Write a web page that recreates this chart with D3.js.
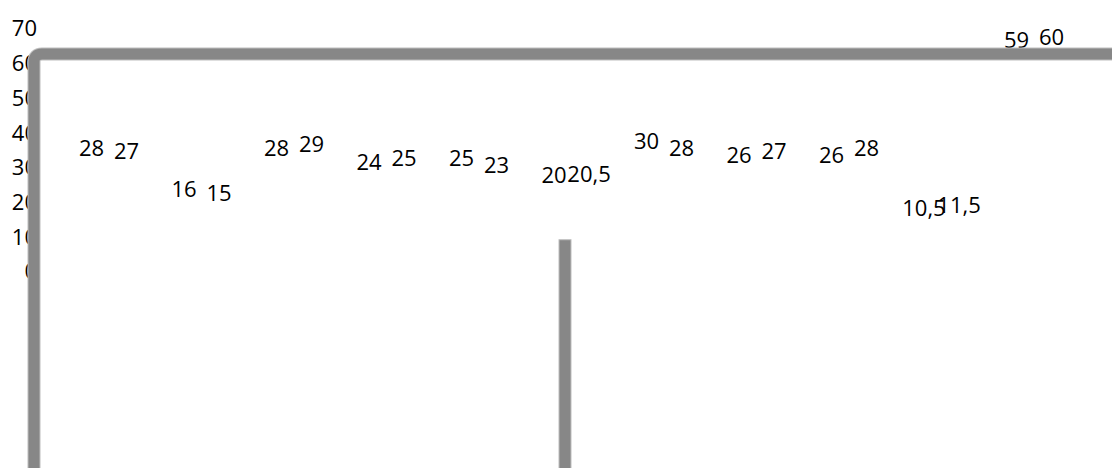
<!DOCTYPE html>
<html>
<head>
<meta charset="utf-8">
<script src="https://cdn.jsdelivr.net/npm/d3@7"></script>
<style>
  html, body { margin: 0; padding: 0; background: #fff; }
  svg { display: block; }
  text { font-family: "Open Sans", sans-serif; font-size: 22px; fill: #000; }
</style>
</head>
<body>
<svg id="chart" width="1112" height="468"></svg>
<script>
const categories = ["c1","c2","c3","c4","c5","c6","c7","c8","c9","c10","c11"];
const seriesA = [28, 16, 28, 24, 25, 20, 30, 26, 26, 10.5, 59];
const seriesB = [27, 15, 29, 25, 23, 20.5, 28, 27, 28, 11.5, 60];
const yTicks = [0, 10, 20, 30, 40, 50, 60, 70];
const frameLevel = 62.5;   // value of the grey horizontal frame line
const barLevel = 9;        // top of the grey vertical bar

const W = 1112, H = 468;
const svg = d3.select("#chart");

const y = d3.scaleLinear().domain([0, 70]).range([271, 28]);
const x = d3.scaleBand().domain(categories).range([62.75, 1080.25]);
const sub = d3.scaleBand().domain(["A", "B"]).range([0, x.bandwidth()]).paddingOuter(0.32).paddingInner(0);

// y-axis tick labels
const axis = d3.axisLeft(y).tickValues(yTicks).tickSize(0).tickPadding(0)
  .tickFormat(d => String(d));
const gAxis = svg.append("g").attr("transform", "translate(37,0)").call(axis);
gAxis.select(".domain").remove();
gAxis.selectAll("text")
  .attr("font-family", "Open Sans, sans-serif")
  .attr("font-size", 22)
  .attr("fill", "#000")
  .attr("dy", "0.36em");

// data labels
const fmt = v => String(v).replace(".", ",");
const rows = categories.map((c, i) => ({c, a: seriesA[i], b: seriesB[i]}));
const gLab = svg.append("g");
rows.forEach(r => {
  [["A", r.a], ["B", r.b]].forEach(([k, v]) => {
    gLab.append("text")
      .attr("x", x(r.c) + sub(k) + sub.bandwidth() / 2)
      .attr("y", y(v) - 26)
      .attr("dy", "0.36em")
      .attr("text-anchor", "middle")
      .text(fmt(v));
  });
});

// grey frame shapes
const yf = y(frameLevel);
const xl = 34;
const r = 8;
svg.append("path")
  .attr("d", `M${xl},${H + 20} L${xl},${yf + r} Q${xl},${yf} ${xl + r},${yf} L${W + 20},${yf}`)
  .attr("fill", "none")
  .attr("stroke", "#bdbdbd")
  .attr("stroke-width", 13);
svg.append("path")
  .attr("d", `M${xl},${H + 20} L${xl},${yf + r} Q${xl},${yf} ${xl + r},${yf} L${W + 20},${yf}`)
  .attr("fill", "none")
  .attr("stroke", "#878787")
  .attr("stroke-width", 11);

const xb = 559;
svg.append("rect")
  .attr("x", xb).attr("y", y(barLevel))
  .attr("width", 12).attr("height", H - y(barLevel) + 10)
  .attr("fill", "#878787")
  .attr("stroke", "#bdbdbd")
  .attr("stroke-width", 1);
</script>
</body>
</html>
